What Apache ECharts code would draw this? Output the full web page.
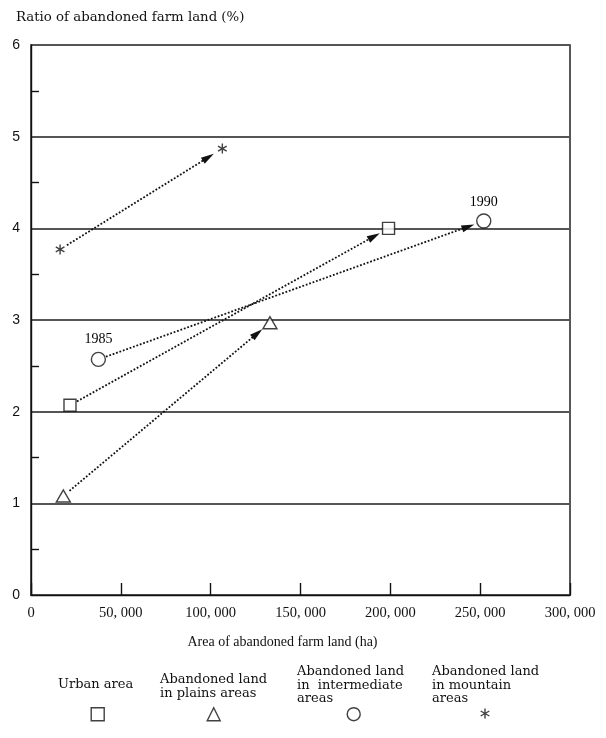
<!DOCTYPE html>
<html><head><meta charset="utf-8">
<script src="https://cdn.jsdelivr.net/npm/echarts@6/dist/echarts.min.js"></script>
<style>html,body{margin:0;padding:0;background:#fff}#c{width:606px;height:738px}</style>
</head><body><div id="c"></div>
<script>
// ---- data ----
const categories = ['Urban area', 'Abandoned land in plains areas', 'Abandoned land in intermediate areas', 'Abandoned land in mountain areas'];
const legendLines = [['Urban area'], ['Abandoned land', 'in plains areas'], ['Abandoned land', 'in  intermediate', 'areas'], ['Abandoned land', 'in mountain', 'areas']];
const years = ['1985', '1990'];
const area1985 = [21700, 18000, 37500, 16200];
const ratio1985 = [2.07, 1.08, 2.57, 3.77];
const area1990 = [199000, 133000, 252000, 106500];
const ratio1990 = [4.00, 2.97, 4.08, 4.87];
const xTickValues = [0, 50000, 100000, 150000, 200000, 250000, 300000];
const xTickLabels = ['0', '50, 000', '100, 000', '150, 000', '200, 000', '250, 000', '300, 000'];
const yTickLabels = ['0', '1', '2', '3', '4', '5', '6'];
const xTitle = 'Area of abandoned farm land (ha)';
const yTitle = 'Ratio of abandoned farm land (%)';

// ---- styling ----
const INK = '#111';
const serif = '"DejaVu Serif", serif';
const tserif = '"Liberation Serif", serif';

function asteriskPath() {
  const L = 5, W = 0.7;
  let p = '';
  [90, 30, 150].forEach(a => {
    const t = a * Math.PI / 180;
    const dx = Math.cos(t), dy = Math.sin(t), nx = -dy, ny = dx;
    const pts = [[L*dx + W*nx, L*dy + W*ny], [-L*dx + W*nx, -L*dy + W*ny], [-L*dx - W*nx, -L*dy - W*ny], [L*dx - W*nx, L*dy - W*ny]];
    p += 'M' + pts.map(q => q[0].toFixed(3) + ' ' + q[1].toFixed(3)).join(' L') + ' Z ';
  });
  return 'path://' + p;
}
const symbols = ['rect', 'triangle', 'circle', asteriskPath()];
const symbolSizes = [12, [14, 12], 14, 10];
const legendX = [97, 213, 353, 485];
const legendIconSize = [13, 13, 13, 10];
const legendTextPos = [[58, 678], [160, 673], [297, 665], [432, 665]];

const hollow = { color: '#fff', borderColor: INK, borderWidth: 1.4 };
const solid = { color: INK, borderWidth: 0 };

const series = [];
// arrows
series.push({
  type: 'custom',
  name: 'arrows',
  z: 2,
  silent: true,
  encode: { x: [0, 2], y: [1, 3] },
  data: categories.map((c, i) => [area1985[i], ratio1985[i], area1990[i], ratio1990[i]]),
  renderItem(params, api) {
    const p0 = api.coord([api.value(0), api.value(1)]);
    const p1 = api.coord([api.value(2), api.value(3)]);
    const dx = p1[0] - p0[0], dy = p1[1] - p0[1];
    const len = Math.hypot(dx, dy), ux = dx / len, uy = dy / len, nx = -uy, ny = ux;
    const sGap = 8, eGap = 10, hl = 13, hw = 3.6;
    const s = [p0[0] + ux * sGap, p0[1] + uy * sGap];
    const tip = [p1[0] - ux * eGap, p1[1] - uy * eGap];
    const base = [tip[0] - ux * hl, tip[1] - uy * hl];
    return {
      type: 'group', children: [
        { type: 'line', shape: { x1: s[0], y1: s[1], x2: base[0] + ux * 3, y2: base[1] + uy * 3 },
          style: { stroke: INK, lineWidth: 1.8, lineDash: [1.8, 1.8] } },
        { type: 'polygon', shape: { points: [tip, [base[0] + nx * hw, base[1] + ny * hw], [base[0] - nx * hw, base[1] - ny * hw]] },
          style: { fill: INK } }
      ]
    };
  }
});
categories.forEach((name, i) => {
  const isAst = i === 3;
  const d0 = { value: [area1985[i], ratio1985[i]] };
  const d1 = { value: [area1990[i], ratio1990[i]] };
  if (i === 2) {
    d0.label = { show: true, formatter: years[0], position: 'top', distance: 5 };
    d1.label = { show: true, formatter: years[1], position: 'top', distance: 4 };
  }
  series.push({
    type: 'scatter',
    name,
    z: 3,
    symbol: symbols[i],
    symbolSize: symbolSizes[i],
    symbolKeepAspect: true,
    itemStyle: isAst ? solid : hollow,
    label: { color: '#000', fontFamily: tserif, fontSize: 14, opacity: 1 },
    emphasis: { disabled: true },
    data: [d0, d1]
  });
});

const legends = categories.map((name, i) => ({
  data: [{ name, icon: symbols[i] }],
  left: legendX[i] - legendIconSize[i] / 2,
  top: 713.5 - legendIconSize[i] / 2,
  padding: 0,
  itemWidth: legendIconSize[i],
  itemHeight: legendIconSize[i],
  selectedMode: false,
  formatter: () => '',
  itemStyle: i === 3 ? solid : hollow
}));

const graphics = legendLines.map((lines, i) => ({
  type: 'text',
  left: legendTextPos[i][0],
  top: legendTextPos[i][1],
  style: { text: lines.join('\n'), fill: INK, font: '13px ' + serif, lineHeight: 13.5 }
}));

const chart = echarts.init(document.getElementById('c'), null, { renderer: 'canvas' });
chart.setOption({
  backgroundColor: '#fff',
  animation: false,
  title: {
    text: yTitle, left: 16, top: 11, padding: 0,
    textStyle: { fontFamily: serif, fontSize: 13.3, fontWeight: 'normal', color: INK }
  },
  grid: { left: 31, right: 36, top: 45, bottom: 143, show: true, borderColor: INK, borderWidth: 1.4, containLabel: false, outerBoundsMode: 'none' },
  xAxis: {
    type: 'value', min: xTickValues[0], max: xTickValues[xTickValues.length - 1], interval: xTickValues[1] - xTickValues[0],
    name: xTitle, nameLocation: 'middle', nameGap: 40,
    nameTextStyle: { fontFamily: tserif, fontSize: 14, color: INK, padding: [0, 36, 0, 0] },
    axisLine: { show: true, lineStyle: { color: INK, width: 1.4 } },
    axisTick: { show: true, inside: true, length: 12, lineStyle: { color: INK, width: 1.4 } },
    axisLabel: { color: INK, fontFamily: tserif, fontSize: 14.5, margin: 11,
      formatter: v => xTickLabels[xTickValues.indexOf(v)] },
    splitLine: { show: false }
  },
  yAxis: {
    type: 'value', min: 0, max: 6, interval: 1,
    axisLine: { show: true, lineStyle: { color: INK, width: 1.4 } },
    axisTick: { show: false, inside: true },
    minorTick: { show: true, splitNumber: 2, length: 8, lineStyle: { color: INK, width: 1.4 } },
    axisLabel: { color: INK, fontFamily: '"Liberation Sans", sans-serif', fontSize: 14, margin: 11,
      formatter: v => yTickLabels[Math.round(v)] },
    splitLine: { show: true, lineStyle: { color: '#555', width: 2 } }
  },
  legend: legends,
  graphic: graphics,
  series
});
</script>
</body></html>
